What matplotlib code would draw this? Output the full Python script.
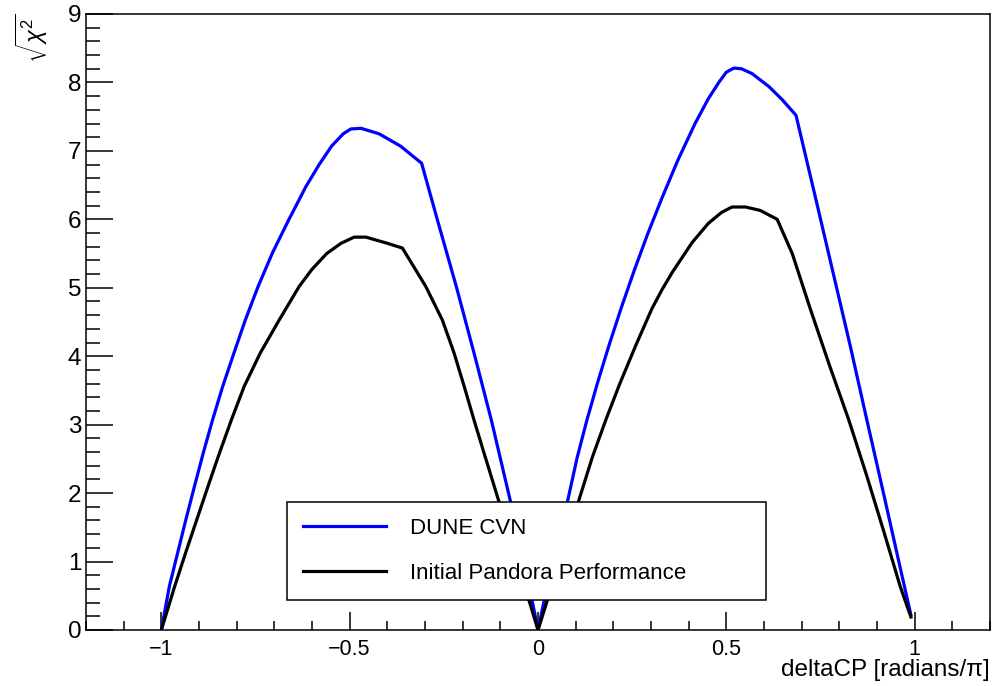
import matplotlib
matplotlib.use("Agg")
import matplotlib.pyplot as plt
from matplotlib.ticker import MultipleLocator

plt.rcParams['font.family'] = ['Liberation Sans', 'DejaVu Sans']
plt.rcParams['mathtext.fontset'] = 'custom'
plt.rcParams['mathtext.rm'] = 'Liberation Sans'
plt.rcParams['mathtext.it'] = 'Liberation Sans:italic'

# values
cvn_x = [-1.0, -0.979, -0.957, -0.935, -0.912, -0.889, -0.864, -0.837, -0.807, -0.777,
         -0.743, -0.705, -0.662, -0.616, -0.581, -0.548, -0.517, -0.497, -0.470, -0.422,
         -0.365, -0.309, -0.267, -0.217, -0.170, -0.124, -0.074, -0.016, 0.0,
         0.016, 0.078, 0.104, 0.130, 0.158, 0.188, 0.220, 0.254, 0.290, 0.329, 0.371,
         0.417, 0.452, 0.480, 0.500, 0.520, 0.540, 0.568, 0.613, 0.648, 0.685,
         0.737, 0.783, 0.829, 0.873, 0.918, 0.962, 0.99]
cvn_y = [0.0, 0.63, 1.12, 1.61, 2.10, 2.58, 3.07, 3.56, 4.05, 4.53,
         5.02, 5.51, 5.99, 6.48, 6.80, 7.07, 7.25, 7.32, 7.33, 7.25,
         7.07, 6.82, 5.99, 5.02, 4.05, 3.07, 1.90, 0.44, 0.0,
         0.42, 1.87, 2.52, 3.07, 3.61, 4.15, 4.69, 5.23, 5.77, 6.31, 6.86,
         7.40, 7.76, 8.00, 8.15, 8.21, 8.20, 8.13, 7.94, 7.75, 7.52,
         6.31, 5.23, 4.15, 3.07, 1.98, 0.90, 0.22]

pan_x = [-1.0, -0.965, -0.936, -0.906, -0.876, -0.846, -0.814, -0.780, -0.737, -0.687,
         -0.634, -0.600, -0.561, -0.523, -0.488, -0.457, -0.400, -0.360,
         -0.298, -0.254, -0.223, -0.196, -0.170, -0.143, -0.105, 0.0,
         0.107, 0.144, 0.180, 0.218, 0.259, 0.302, 0.329, 0.357, 0.409, 0.452,
         0.487, 0.515, 0.551, 0.590, 0.635, 0.675, 0.723, 0.773, 0.825, 0.873,
         0.918, 0.962, 0.99]
pan_y = [0.0, 0.63, 1.12, 1.61, 2.10, 2.58, 3.07, 3.56, 4.05, 4.53,
         5.02, 5.27, 5.50, 5.65, 5.74, 5.74, 5.65, 5.58,
         5.02, 4.53, 4.05, 3.56, 3.07, 2.58, 1.90, 0.0,
         1.87, 2.52, 3.07, 3.61, 4.15, 4.69, 4.97, 5.23, 5.66, 5.94,
         6.10, 6.18, 6.18, 6.13, 6.00, 5.50, 4.69, 3.88, 3.07, 2.25,
         1.44, 0.63, 0.19]

labels = ["DUNE CVN", "Initial Pandora Performance"]

fig = plt.figure(figsize=(10.01, 6.86), dpi=100)
ax = fig.add_axes([86 / 1001, 1 - 630 / 686, 904 / 1001, 616 / 686])

ax.plot(cvn_x, cvn_y, color='#0000ff', lw=2.3, label=labels[0])
ax.plot(pan_x, pan_y, color='black', lw=2.3, label=labels[1])

ax.set_xlim(-1.2, 1.2)
ax.set_ylim(0, 9)
ax.xaxis.set_minor_locator(MultipleLocator(0.1))
ax.yaxis.set_major_locator(MultipleLocator(1))
ax.yaxis.set_minor_locator(MultipleLocator(0.2))
ax.set_xticks([-1, -0.5, 0, 0.5, 1])
ax.set_xticklabels(['\u22121', '\u22120.5', '0', '0.5', '1'])

ax.tick_params(axis='x', which='major', direction='in', length=13, width=1.1,
               labelsize=15.5, pad=6.5, top=False)
ax.tick_params(axis='x', which='minor', direction='in', length=6.5, width=1.1, top=False)
ax.tick_params(axis='y', which='major', direction='in', length=19.5, width=1.1,
               labelsize=17.5, pad=3.5, right=False)
ax.tick_params(axis='y', which='minor', direction='in', length=10, width=1.1, right=False)
for s in ax.spines.values():
    s.set_linewidth(1.1)

ax.set_xlabel('deltaCP [radians/\u03c0]', fontsize=17.5, ha='right', va='top')
ax.xaxis.set_label_coords(1.0, -0.0465)
ax.set_ylabel(r'$\sqrt{\chi^{2}}$', fontsize=17, ha='right', va='bottom')
ax.yaxis.set_label_coords(-0.040, 1.0)

leg = ax.legend(loc='lower left', bbox_to_anchor=(0.2223, 0.0487, 0.530, 0.16),
                mode='expand', borderaxespad=0, fancybox=False, framealpha=1,
                edgecolor='black', fontsize=16, handlelength=3.75, handletextpad=1.05,
                labelspacing=1.1, borderpad=0.72)
leg.get_frame().set_linewidth(1.1)

fig.savefig('out.png', dpi=100)
